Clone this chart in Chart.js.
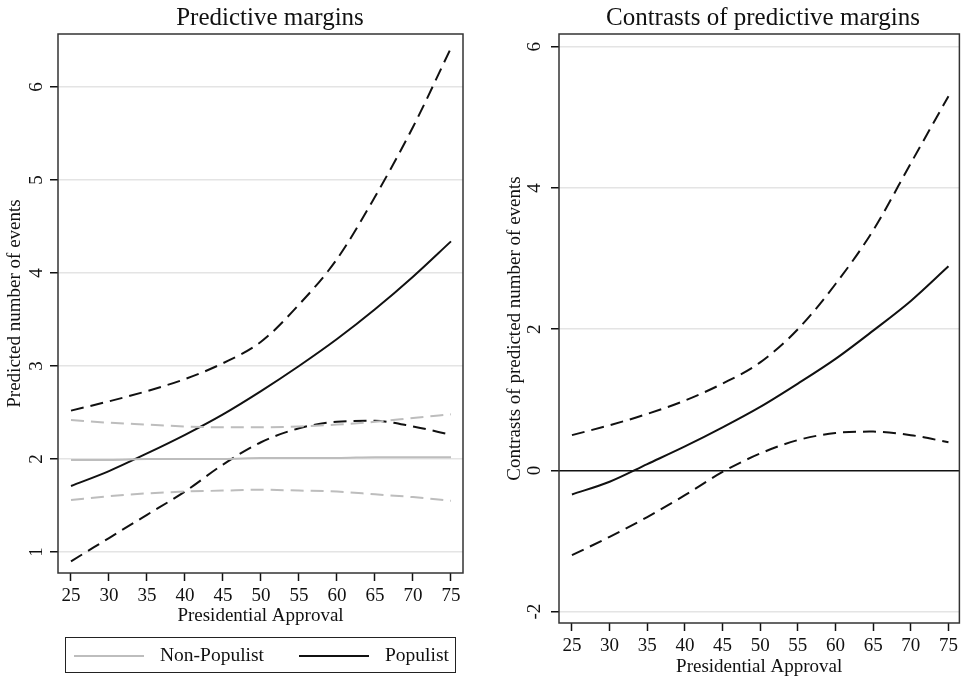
<!DOCTYPE html>
<html>
<head>
<meta charset="utf-8">
<script src="https://cdn.jsdelivr.net/npm/chart.js@4.4.1/dist/chart.umd.min.js"></script>
<style>
  body { margin: 0; background: #fff; width: 962px; height: 679px; position: relative; overflow: hidden; font-family: "Liberation Serif", serif; }
  #left { position: absolute; left: 0; top: 0; }
  #right { position: absolute; left: 480px; top: 0; }
  .legend { position: absolute; left: 65px; top: 637px; width: 389px; height: 34px; border: 1.5px solid #222; }
  .legend .sw { position: absolute; top: 17px; height: 0; width: 70px; }
  .legend .lb { position: absolute; top: 5px; font-size: 19.5px; line-height: 24px; color: #111; }
</style>
</head>
<body>
<canvas id="left" width="480" height="679"></canvas>
<canvas id="right" width="482" height="679"></canvas>
<div class="legend">
  <div class="sw" style="left:8px;border-top:2px solid #bdbdbd"></div>
  <div class="lb" style="left:94px">Non-Populist</div>
  <div class="sw" style="left:233px;border-top:2px solid #111"></div>
  <div class="lb" style="left:319px">Populist</div>
</div>
<script>
// x values (presidential approval)
const approval = [25, 30, 35, 40, 45, 50, 55, 60, 65, 70, 75];

// left panel: predictive margins
const populist      = [1.71, 1.87, 2.06, 2.26, 2.48, 2.73, 3.00, 3.29, 3.61, 3.96, 4.34];
const populistHi    = [2.52, 2.62, 2.73, 2.86, 3.03, 3.26, 3.66, 4.15, 4.82, 5.57, 6.42];
const populistLo    = [0.90, 1.15, 1.40, 1.65, 1.94, 2.18, 2.33, 2.40, 2.41, 2.35, 2.26];
const nonPopulist   = [1.99, 1.99, 2.00, 2.00, 2.00, 2.01, 2.01, 2.01, 2.02, 2.02, 2.02];
const nonPopulistHi = [2.42, 2.39, 2.37, 2.35, 2.34, 2.34, 2.35, 2.37, 2.40, 2.44, 2.48];
const nonPopulistLo = [1.56, 1.60, 1.63, 1.65, 1.66, 1.67, 1.66, 1.65, 1.62, 1.59, 1.55];

// right panel: contrasts
const contrast   = [-0.34, -0.16, 0.09, 0.34, 0.61, 0.90, 1.23, 1.58, 1.98, 2.40, 2.89];
const contrastHi = [0.50, 0.64, 0.80, 0.99, 1.23, 1.53, 2.00, 2.64, 3.40, 4.35, 5.30];
const contrastLo = [-1.20, -0.94, -0.66, -0.35, -0.02, 0.24, 0.43, 0.53, 0.55, 0.50, 0.40];

const xTicks = [25, 30, 35, 40, 45, 50, 55, 60, 65, 70, 75];
const leftYTicks = [1, 2, 3, 4, 5, 6];
const rightYTicks = [-2, 0, 2, 4, 6];

const FONT = 'Liberation Serif';
const BLACK = '#111';
const GREY = '#bdbdbd';
const GRID = '#e4e4e4';

Chart.defaults.font.family = FONT;
Chart.defaults.color = BLACK;

function pts(ys) {
  return approval.map((x, i) => ({ x, y: ys[i] }));
}

function line(ys, color, dashed) {
  return {
    data: pts(ys),
    borderColor: color,
    borderWidth: 2,
    borderDash: dashed ? [13, 7] : [],
    pointRadius: 0,
    fill: false,
    cubicInterpolationMode: 'monotone',
  };
}

// draws title text and frame around the plot area
const decor = {
  id: 'decor',
  afterDraw(chart, args, opts) {
    const { ctx, chartArea: a } = chart;
    ctx.save();
    ctx.strokeStyle = '#333';
    ctx.lineWidth = 1.5;
    ctx.strokeRect(a.left, a.top, a.right - a.left, a.bottom - a.top);
    ctx.fillStyle = BLACK;
    ctx.font = `25px "${FONT}"`;
    ctx.textAlign = 'center';
    ctx.textBaseline = 'middle';
    ctx.fillText(opts.title, opts.titleX, 18);
    ctx.restore();
  },
};

function makeOptions(cfg) {
  return {
    responsive: false,
    animation: false,
    layout: { padding: cfg.padding },
    plugins: {
      legend: { display: false },
      tooltip: { enabled: false },
      decor: { title: cfg.title, titleX: cfg.titleX },
    },
    scales: {
      x: {
        type: 'linear',
        min: cfg.xMin,
        max: cfg.xMax,
        afterBuildTicks: s => { s.ticks = xTicks.map(v => ({ value: v })); },
        afterFit: s => { s.height = cfg.xHeight; },
        grid: { drawOnChartArea: false, tickLength: 8, tickColor: BLACK, tickWidth: 1.5 },
        border: { display: false },
        ticks: { font: { size: 19 }, padding: 4, maxRotation: 0, color: BLACK },
        title: { display: true, text: 'Presidential Approval', font: { size: 19 }, padding: { top: 0, bottom: cfg.xTitlePad }, color: BLACK },
      },
      y: {
        type: 'linear',
        min: cfg.yMin,
        max: cfg.yMax,
        afterBuildTicks: s => { s.ticks = cfg.yTicks.map(v => ({ value: v })); },
        afterFit: s => { s.width = cfg.yWidth; },
        grid: {
          color: c => (c.tick && c.tick.value === 0 && cfg.zeroLine) ? BLACK : GRID,
          lineWidth: 1.5,
          tickLength: 8,
          tickColor: BLACK,
          tickWidth: 1.5,
        },
        border: { display: false },
        ticks: { font: { size: 19 }, padding: 8, minRotation: 90, maxRotation: 90, crossAlign: 'center', color: BLACK },
        title: { display: true, text: cfg.yTitle, font: { size: 19 }, padding: { top: cfg.yTitlePad, bottom: 0 }, color: BLACK },
      },
    },
  };
}

new Chart(document.getElementById('left'), {
  type: 'line',
  data: {
    datasets: [
      line(nonPopulistHi, GREY, true),
      line(nonPopulistLo, GREY, true),
      line(nonPopulist, GREY, false),
      line(populistHi, BLACK, true),
      line(populistLo, BLACK, true),
      line(populist, BLACK, false),
    ],
  },
  options: makeOptions({
    padding: { left: 0, top: 34, right: 17, bottom: 46 },
    title: 'Predictive margins',
    titleX: 270,
    xMin: 23.29, xMax: 76.58,
    yMin: 0.774, yMax: 6.57,
    yTicks: leftYTicks,
    xHeight: 60,
    xTitlePad: 6,
    yWidth: 58,
    yTitle: 'Predicted number of events',
    yTitlePad: 4,
  }),
  plugins: [decor],
});

new Chart(document.getElementById('right'), {
  type: 'line',
  data: {
    datasets: [
      line(contrastHi, BLACK, true),
      line(contrastLo, BLACK, true),
      line(contrast, BLACK, false),
    ],
  },
  options: makeOptions({
    padding: { left: 0, top: 34, right: 1, bottom: 0 },
    title: 'Contrasts of predictive margins',
    titleX: 283,
    xMin: 23.28, xMax: 76.45,
    yMin: -2.16, yMax: 6.18,
    yTicks: rightYTicks,
    xHeight: 56,
    xTitlePad: 1,
    yWidth: 79,
    yTitle: 'Contrasts of predicted number of events',
    yTitlePad: 24,
    zeroLine: true,
  }),
  plugins: [decor],
});
</script>
</body>
</html>
